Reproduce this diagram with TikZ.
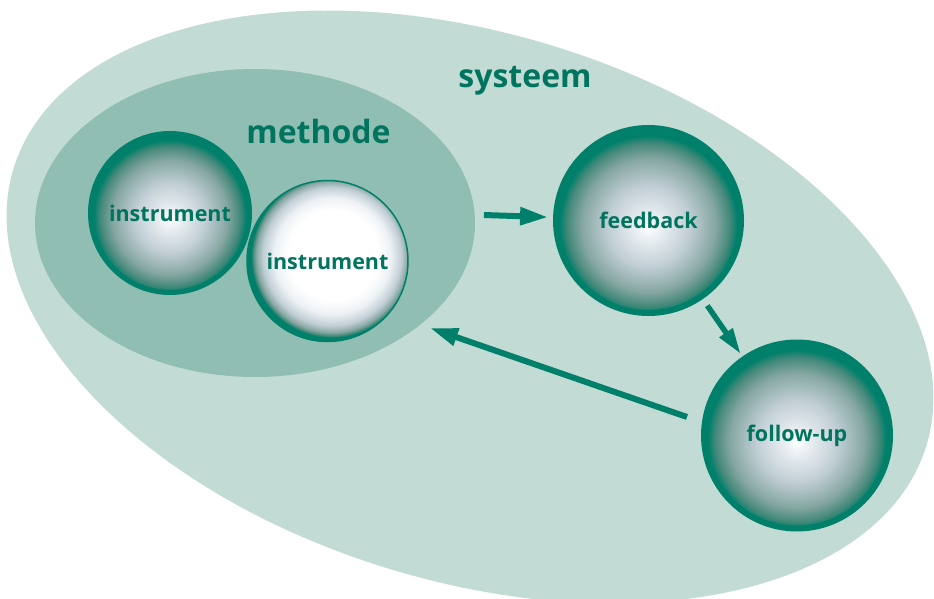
\documentclass[tikz,border=0pt]{standalone}
\usepackage{fontspec}
\setmainfont{Open Sans}
\usetikzlibrary{arrows.meta,shapes.geometric}

\definecolor{sysfill}{HTML}{C2DCD5}
\definecolor{metfill}{HTML}{90BEB3}
\definecolor{deepteal}{HTML}{00806A}
\definecolor{labelgreen}{HTML}{00745F}
\definecolor{ballhi}{HTML}{EEF2F5}
\definecolor{ballmid}{HTML}{C1CED5}
\definecolor{ballgrey}{HTML}{86A7A2}
\definecolor{balledge}{HTML}{44897A}

% sphere with a strong green rim (25bp = edge of the circle)
\pgfdeclareradialshading{darkball}{\pgfpoint{0bp}{-2bp}}{%
  color(0bp)=(white); color(2.5bp)=(ballhi); color(11bp)=(ballmid);
  color(18bp)=(ballgrey); color(22bp)=(balledge); color(24bp)=(deepteal);
  color(25bp)=(deepteal); color(50bp)=(deepteal)}
% mostly white sphere with a thin rim
\pgfdeclareradialshading{lightball}{\pgfpoint{2.5bp}{2.5bp}}{%
  color(0bp)=(white); color(14bp)=(white); color(18bp)=(ballhi);
  color(21.5bp)=(ballmid); color(23.5bp)=(ballgrey); color(24.5bp)=(balledge);
  color(25bp)=(deepteal); color(50bp)=(deepteal)}

\tikzset{
  ballbase/.style={circle, inner sep=0pt, text=labelgreen,
    font=\bfseries\fontsize{21.5}{25}\selectfont},
  darksphere/.style={ballbase, shading=darkball, draw=deepteal},
  lightsphere/.style={ballbase, shading=lightball, draw=deepteal, line width=1.5pt},
  heading/.style={text=labelgreen, inner sep=0pt, anchor=base,
    font=\bfseries\fontsize{32}{36}\selectfont},
  flow/.style={draw=deepteal, line width=6pt,
    -{Triangle[length=28pt,width=17pt]}},
}

\begin{document}
\begin{tikzpicture}[x=1pt,y=-1pt]
\useasboundingbox (0,0) rectangle (934,599);
\begin{scope}
\clip (0,0) rectangle (934,599);

% system area and method area
\node[ellipse, fill=sysfill, inner sep=0pt, rotate=-16.85,
      minimum width=954pt, minimum height=548pt] (sysarea) at (470,307) {};
\node[ellipse, fill=metfill, inner sep=0pt,
      minimum width=440pt, minimum height=308pt] (metarea) at (255,223) {};

\node[heading] (systitle) at (525,88) {systeem};
\node[heading] (mettitle) at (318.5,143) {methode};

% spheres
\node[darksphere, line width=5pt, minimum size=159pt] (instA) at (170,213) {instrument};
\node[lightsphere, minimum size=161pt] (instB) at (327.5,261) {instrument};
\node[darksphere, line width=6pt, minimum size=185pt] (fb) at (648.5,220.5) {feedback};
\node[darksphere, line width=6pt, minimum size=186pt] (fu) at (797,435.5) {follow-up};

% connectors
\coordinate (outA) at (484,215);
\coordinate (backS) at (687,417);
\coordinate (backE) at (430,328);

\draw[flow, shorten >=5pt] (outA) -- (fb);
\draw[flow, line width=5.5pt, -{Triangle[length=26pt,width=15pt]},
      shorten <=8pt, shorten >=3pt] (fb) -- (fu);
\draw[flow] (backS) -- (backE);
\end{scope}
\end{tikzpicture}
\end{document}
